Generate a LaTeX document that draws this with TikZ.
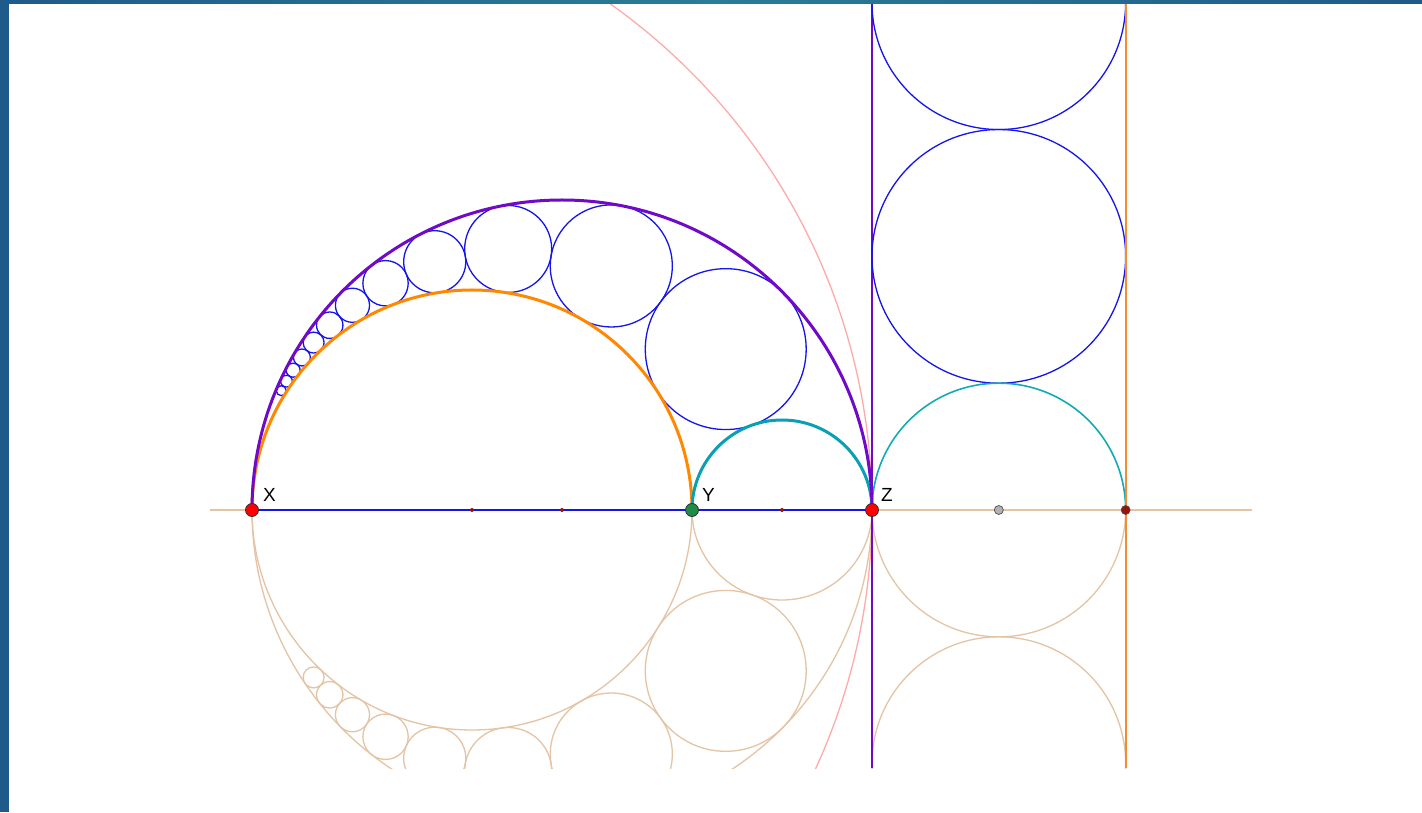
\documentclass[tikz,border=0pt]{standalone}
\usepackage{fontspec}
\setmainfont{Liberation Sans}
\usetikzlibrary{calc}
\definecolor{purp}{RGB}{112,10,200}
\definecolor{orng}{RGB}{255,136,0}
\definecolor{orngl}{RGB}{245,140,50}
\definecolor{teal2}{RGB}{10,160,180}
\definecolor{teal3}{RGB}{20,170,180}
\definecolor{blu}{RGB}{20,20,235}
\definecolor{tan2}{RGB}{228,196,164}
\definecolor{pink2}{RGB}{255,170,170}
\definecolor{bord}{RGB}{31,90,138}
\definecolor{bord2}{RGB}{42,125,150}
\definecolor{dred}{RGB}{150,20,10}
\definecolor{grn}{RGB}{30,140,70}
\tikzset{
  tanline/.style={draw=tan2, line width=1.3pt},
  blueline/.style={draw=blu, line width=1.3pt},
  thickarc/.style={line width=3pt},
  bigpt/.style={circle, draw=black!80, line width=0.8pt, minimum size=13pt, inner sep=0pt},
  midpt/.style={circle, draw=black!70, line width=0.7pt, minimum size=9pt, inner sep=0pt},
  smallpt/.style={circle, fill=dred, minimum size=4pt, inner sep=0pt},
  lbl/.style={font=\fontsize{19}{21}\selectfont, anchor=base west, inner sep=0pt},
}
\begin{document}
\begin{tikzpicture}[x=1pt,y=1pt]
\useasboundingbox (0,0) rectangle (1422,812);
\fill[white] (0,0) rectangle (1422,812);
\coordinate (X) at (252,302);
\coordinate (Y) at (692,302);
\coordinate (Z) at (872,302);
\coordinate (OXZ) at (562,302);
\coordinate (OXY) at (472,302);
\coordinate (OYZ) at (782,302);
\coordinate (OS) at (998.82,302);
\coordinate (W) at (1125.64,302);
\coordinate (La) at (210,302);
\coordinate (Lb) at (1252,302);
\coordinate (Pt) at (872,812);
\coordinate (Pb) at (872,44);
\coordinate (Qt) at (1125.64,812);
\coordinate (Qb) at (1125.64,44);
\begin{scope}
\clip (9,44) rectangle (1422,812);
% inversion circle
\draw[pink2, line width=1.3pt] (X) circle[radius=620pt];
% tan lower parts
\draw[tanline] (La) -- (Lb);
\draw[tanline] (Z) arc[start angle=0, end angle=-180, radius=310pt];
\draw[tanline] (Y) arc[start angle=0, end angle=-180, radius=220pt];
\draw[tanline] (Z) arc[start angle=0, end angle=-180, radius=90pt];
\draw[tanline] (W) arc[start angle=0, end angle=-180, radius=126.82pt];
\draw[tanline] ($(OS)+(0,-253.64)$) circle[radius=126.82pt];
\foreach \k in {-1,...,-8} {
  \pgfmathsetmacro\f{38.44/(54.1654+6.43313*\k*\k)}
  \pgfmathsetmacro\cx{252+100*\f*7.46818}
  \pgfmathsetmacro\cy{302+100*\f*2.53636*\k}
  \pgfmathsetmacro\rr{100*\f*1.26818}
  \draw[tanline] (\cx,\cy) circle[radius=\rr pt];
}
% strip
\draw[purp, line width=1.6pt] (Pt) -- (Pb);
\foreach \k in {1,2} {
  \draw[blueline] ($(OS)+(0,253.64*\k)$) circle[radius=126.82pt];
}
\draw[teal3, line width=1.6pt] (W) arc[start angle=0, end angle=180, radius=126.82pt];
\draw[orngl, line width=2pt] (Qt) -- (Qb);
% Pappus chain
\foreach \k in {1,...,12} {
  \pgfmathsetmacro\f{38.44/(54.1654+6.43313*\k*\k)}
  \pgfmathsetmacro\cx{252+100*\f*7.46818}
  \pgfmathsetmacro\cy{302+100*\f*2.53636*\k}
  \pgfmathsetmacro\rr{100*\f*1.26818}
  \draw[blueline] (\cx,\cy) circle[radius=\rr pt];
}
\draw[blueline] (X) -- (Z);
\draw[orng, thickarc] (Y) arc[start angle=0, end angle=180, radius=220pt];
\draw[teal2, thickarc] (Z) arc[start angle=0, end angle=180, radius=90pt];
\draw[purp, thickarc] (Z) arc[start angle=0, end angle=180, radius=310pt];
\end{scope}
% border
\fill[bord] (0,0) rectangle (9,812);
\shade[left color=bord, right color=bord, middle color=bord2] (0,808) rectangle (1422,812);
% points
\node[smallpt] (m1) at (OXY) {};
\node[smallpt] (m2) at (OXZ) {};
\node[smallpt] (m3) at (OYZ) {};
\node[midpt, fill=black!30] (m4) at (OS) {};
\node[midpt, fill=dred] (m5) at (W) {};
\node[bigpt, fill=red] (px) at (X) {};
\node[bigpt, fill=grn] (py) at (Y) {};
\node[bigpt, fill=red] (pz) at (Z) {};
\node[lbl] (lx) at (263,310) {X};
\node[lbl] (ly) at (702,310) {Y};
\node[lbl] (lz) at (881,310) {Z};
\end{tikzpicture}
\end{document}
